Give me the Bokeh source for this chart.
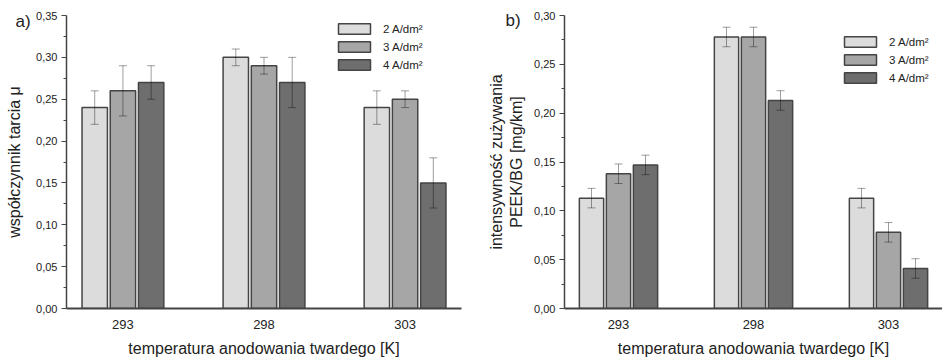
from bokeh.plotting import figure
from bokeh.layouts import row
from bokeh.models import (ColumnDataSource, Whisker, Legend, LegendItem, Title,
                          FixedTicker, CustomJSTickFormatter, Range1d)
from bokeh.embed import file_html
from bokeh.resources import INLINE

temps = [293, 298, 303]
series = ["2 A/dm²", "3 A/dm²", "4 A/dm²"]
colors = ["#dcdcdc", "#a6a6a6", "#6e6e6e"]
offsets = [-1.0, 0.0, 1.0]

# panel a) coefficient of friction
fric_2 = [0.24, 0.30, 0.24]
fric_3 = [0.26, 0.29, 0.25]
fric_4 = [0.27, 0.27, 0.15]
fric_err_2 = [0.02, 0.01, 0.02]
fric_err_3 = [0.03, 0.01, 0.01]
fric_err_4 = [0.02, 0.03, 0.03]
fric_ticks = [0.0, 0.05, 0.10, 0.15, 0.20, 0.25, 0.30, 0.35]

# panel b) wear intensity
wear_2 = [0.113, 0.278, 0.113]
wear_3 = [0.138, 0.278, 0.078]
wear_4 = [0.147, 0.213, 0.041]
wear_err_2 = [0.010, 0.010, 0.010]
wear_err_3 = [0.010, 0.010, 0.010]
wear_err_4 = [0.010, 0.010, 0.010]
wear_ticks = [0.0, 0.05, 0.10, 0.15, 0.20, 0.25, 0.30]

FONT = "Liberation Sans"
TXT = "#222222"


def make_panel(vals, errs, ymax, yticks, ylabel, tag, tag_off, tag_standoff, width,
               b_left, b_right, leg_loc, ylab_standoff):
    p = figure(width=width, height=359, output_backend="svg",
               toolbar_location=None, x_range=Range1d(291, 305),
               y_range=Range1d(0, ymax + 1e-6), min_border_left=b_left,
               min_border_right=b_right, min_border_top=15, min_border_bottom=50)
    p.outline_line_color = None
    p.grid.grid_line_color = None
    items = []
    for s, v, e, c, off in zip(series, vals, errs, colors, offsets):
        xs = [t + off for t in temps]
        src = ColumnDataSource(dict(x=xs, top=v,
                                    upper=[a + b for a, b in zip(v, e)],
                                    lower=[a - b for a, b in zip(v, e)]))
        r = p.vbar(x="x", top="top", width=0.9, source=src, fill_color=c,
                   line_color="#444444", line_width=1.5)
        w = Whisker(base="x", upper="upper", lower="lower", source=src,
                    line_color="black", line_alpha=0.38, line_width=1, level="overlay")
        for h in (w.upper_head, w.lower_head):
            h.size = 8
            h.line_color = "black"
            h.line_alpha = 0.38
        p.add_layout(w)
        items.append(LegendItem(label=s, renderers=[r]))
    leg = Legend(items=items, location=leg_loc, border_line_color=None,
                 background_fill_alpha=0, glyph_width=40, glyph_height=13,
                 spacing=5, padding=0, margin=0, label_standoff=9,
                 label_text_font=FONT, label_text_font_size="11.5px",
                 label_text_color=TXT)
    p.add_layout(leg)

    xa = p.xaxis[0]
    xa.ticker = FixedTicker(ticks=temps)
    xa.major_tick_out = 0
    xa.major_tick_in = 0
    xa.minor_tick_out = 0
    xa.axis_line_color = "#444444"
    xa.axis_line_width = 2
    xa.major_label_text_font = FONT
    xa.major_label_text_font_size = "13px"
    xa.major_label_text_color = TXT
    xa.major_label_standoff = 11
    xa.axis_label = "temperatura anodowania twardego [K]"
    xa.axis_label_text_font = FONT
    xa.axis_label_text_font_style = "normal"
    xa.axis_label_text_font_size = "16px"
    xa.axis_label_text_color = TXT
    xa.axis_label_standoff = 8

    ya = p.yaxis[0]
    minors = [a + 0.025 for a in yticks[:-1]]
    ya.ticker = FixedTicker(ticks=yticks, minor_ticks=minors)
    ya.formatter = CustomJSTickFormatter(code="return tick.toFixed(2).replace('.', ',');")
    ya.axis_line_color = "#444444"
    ya.axis_line_width = 1.5
    ya.major_tick_out = 5
    ya.major_tick_in = 0
    ya.minor_tick_out = 3
    ya.minor_tick_in = 0
    ya.major_tick_line_color = "#444444"
    ya.minor_tick_line_color = "#444444"
    ya.major_label_text_font = FONT
    ya.major_label_text_font_size = "11px"
    ya.major_label_text_color = TXT
    ya.major_label_standoff = 4
    ya.axis_label = ylabel
    ya.axis_label_text_font = FONT
    ya.axis_label_text_font_style = "normal"
    ya.axis_label_text_font_size = "16px"
    ya.axis_label_text_color = TXT
    ya.axis_label_standoff = ylab_standoff

    t = Title(text=tag, align="left", offset=tag_off, standoff=tag_standoff,
              text_font=FONT, text_font_size="17px", text_font_style="normal",
              text_color=TXT)
    p.add_layout(t, "above")
    return p


pa = make_panel([fric_2, fric_3, fric_4], [fric_err_2, fric_err_3, fric_err_4],
                0.35, fric_ticks, "współczynnik tarcia μ", "a)", -51, -31,
                478, 66, 17, (268, 237), 10)
pb = make_panel([wear_2, wear_3, wear_4], [wear_err_2, wear_err_3, wear_err_4],
                0.30, wear_ticks, "intensywność zużywania\nPEEK/BG [mg/km]", "b)", -59, -28,
                464, 86, 0, (276, 224), 6)

layout = row(pa, pb, spacing=0)
open("out.html", "w").write(file_html(layout, INLINE))
